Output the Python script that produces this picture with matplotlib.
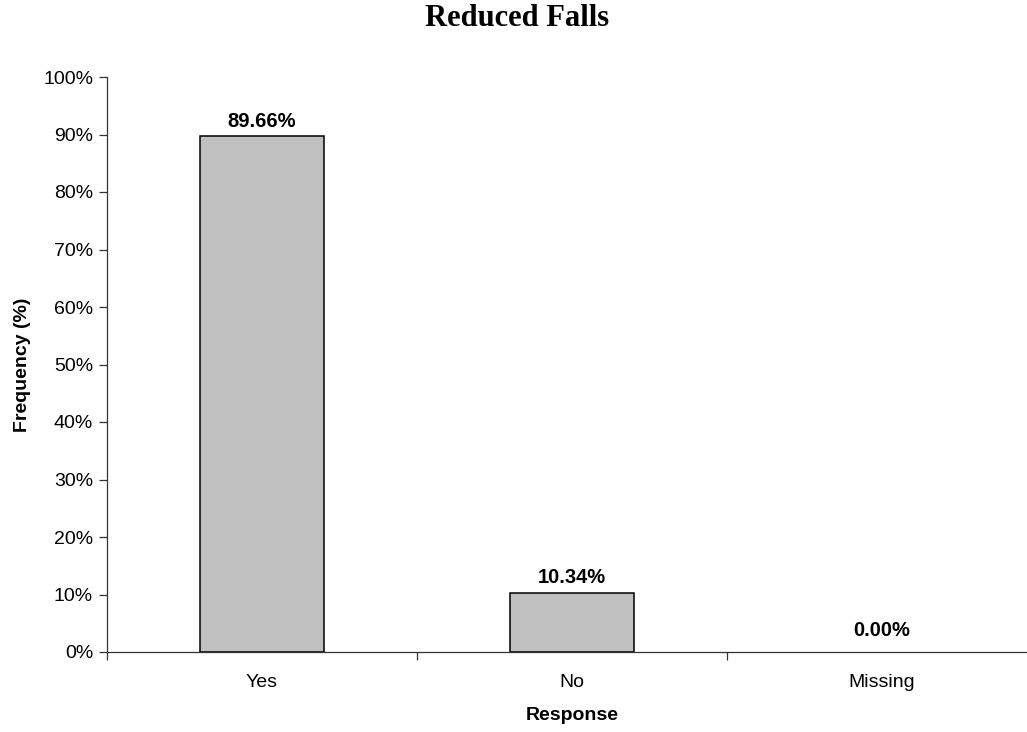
import numpy as np
import matplotlib.pyplot as plt
from matplotlib.ticker import FixedLocator, NullFormatter

responses = ['Yes', 'No', 'Missing']
freq_pct = [89.66, 10.34, 0.00]

plt.rcParams['font.family'] = ['Liberation Sans', 'DejaVu Sans']

fig = plt.figure(figsize=(10.27, 7.32), dpi=100)
ax = fig.add_axes([107/1027, 80/732, 930/1027, 575/732])

x = np.arange(len(responses)) + 0.5
ax.bar(x, freq_pct, width=0.4, color='#c0c0c0', edgecolor='black',
       linewidth=[1.1 if v > 0 else 0 for v in freq_pct])

for xi, v in zip(x, freq_pct):
    off = 4 if v > 0 else 9
    ax.annotate(f'{v:.2f}%', (xi, v), xytext=(0, off), textcoords='offset points',
                ha='center', va='bottom', fontsize=14.5, fontweight='bold')

ax.set_xlim(0, 3)
ax.set_ylim(0, 100)
ax.set_yticks(np.arange(0, 101, 10))
ax.set_yticklabels([f'{t}%' for t in range(0, 101, 10)], fontsize=14)
ax.set_xticks(x)
ax.set_xticklabels(responses, fontsize=14)
ax.xaxis.set_minor_locator(FixedLocator([0, 1, 2, 3]))
ax.xaxis.set_minor_formatter(NullFormatter())
ax.tick_params(axis='x', which='major', length=0, pad=16)
ax.tick_params(axis='x', which='minor', length=6, width=0.9, color='#333333')
ax.tick_params(axis='y', length=6, width=0.9, color='#333333', pad=4)

for s in ['top', 'right']:
    ax.spines[s].set_visible(False)
for s in ['left', 'bottom']:
    ax.spines[s].set_color('#333333')
    ax.spines[s].set_linewidth(0.9)

ax.set_xlabel('Response', fontsize=14, fontweight='bold', labelpad=11)
ax.set_ylabel('Frequency (%)', fontsize=14, fontweight='bold', labelpad=9)
fig.text(0.5035, 1 - 19/732, 'Reduced Falls', ha='center', va='center',
         fontsize=22, fontweight='bold', family='Liberation Serif')

fig.savefig('out.png', dpi=100)
